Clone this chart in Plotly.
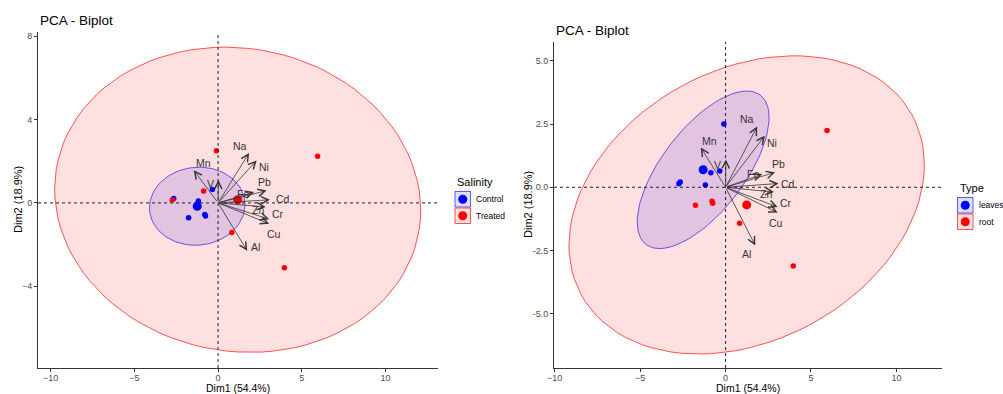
import numpy as np
import plotly.graph_objects as go

# ---------------- data ----------------
ind_x = [-0.10, 5.94, 3.96, 0.82, -0.86, -2.73, -0.34, -2.65, -1.76, -0.79, -0.75, -1.18]
ind_y = [2.50, 2.24, -3.11, -1.42, 0.57, 0.14, 0.64, 0.21, -0.71, -0.55, -0.63, 0.09]
salinity = ["Treated", "Treated", "Treated", "Treated", "Treated", "Treated",
            "Control", "Control", "Control", "Control", "Control", "Control"]
plant_type = ["leaves", "root", "root", "root", "leaves", "leaves",
              "leaves", "leaves", "root", "root", "root", "leaves"]

var_names = ["Na", "Ni", "Mn", "V", "Pb", "Fe", "Cd", "Zn", "Cr", "Cu", "Al"]
var_x = [1.85, 2.30, -1.45, 0.02, 2.90, 2.15, 3.10, 2.84, 3.05, 3.05, 1.74]
var_y = [2.40, 2.04, 1.57, 1.10, 0.59, 0.52, 0.15, -0.19, -0.78, -1.00, -2.30]

# label anchors (data units) as placed in each panel
lab_left_x = [1.31, 2.75, -0.88, -0.44, 2.77, 1.51, 3.86, 2.37, 3.56, 3.34, 2.21]
lab_left_y = [2.75, 1.74, 1.90, 0.90, 0.99, 0.42, 0.21, -0.34, -0.53, -1.50, -2.10]
lab_right_x = [1.24, 2.74, -0.94, -0.47, 3.10, 1.62, 3.65, 2.35, 3.56, 2.98, 1.24]
lab_right_y = [2.69, 1.74, 1.84, 0.88, 0.92, 0.51, 0.13, -0.26, -0.61, -1.40, -2.64]

salinity_groups = ["Control", "Treated"]
type_groups = ["leaves", "root"]

x_ticks = [-10, -5, 0, 5, 10]
left_y_ticks = [-4, 0, 4, 8]
right_y_ticks = [-5.0, -2.5, 0.0, 2.5, 5.0]
right_y_ticktext = ["-5.0", "-2.5", "0.0", "2.5", "5.0"]

x_title = "Dim1 (54.4%)"
y_title = "Dim2 (18.9%)"
plot_title = "PCA - Biplot"

# ---------------- styles ----------------
W, H = 1003, 394
FONT = "Liberation Sans, Arial, sans-serif"
colors = {0: "#0000FF", 1: "#FF0000"}
fills = {0: "rgba(0,0,255,0.13)", 1: "rgba(255,0,0,0.12)"}
lines = {0: "rgba(40,40,255,0.75)", 1: "rgba(255,40,40,0.8)"}


def px(x):
    return x / W


def py(y):
    return 1 - y / H


def t_ellipse(xs, ys, level=0.95, segments=101):
    pts = np.column_stack([xs, ys])
    n = len(pts)
    c = pts.mean(axis=0)
    cov = np.cov(pts.T)
    df2 = n - 1
    F = df2 / 2 * ((1 - level) ** (-2 / df2) - 1)
    r = np.sqrt(2 * F)
    th = np.linspace(0, 2 * np.pi, segments)
    unit = np.column_stack([np.cos(th), np.sin(th)])
    L = np.linalg.cholesky(cov)
    e = c + r * unit @ L.T
    return e[:, 0], e[:, 1]


ix = np.array(ind_x)
iy = np.array(ind_y)

fig = go.Figure()


def add_panel(labels, groups, xa, ya):
    labels = np.array(labels)
    for gi, g in enumerate(groups):
        m = labels == g
        ex, ey = t_ellipse(ix[m], iy[m])
        fig.add_trace(go.Scatter(x=ex, y=ey, mode="lines", fill="toself",
                                 fillcolor=fills[gi], line=dict(color=lines[gi], width=1),
                                 xaxis=xa, yaxis=ya, showlegend=False, hoverinfo="skip"))
    for gi, g in enumerate(groups):
        m = labels == g
        fig.add_trace(go.Scatter(x=ix[m], y=iy[m], mode="markers",
                                 marker=dict(color=colors[gi], size=5.5),
                                 xaxis=xa, yaxis=ya, showlegend=False, name=g))
        fig.add_trace(go.Scatter(x=[ix[m].mean()], y=[iy[m].mean()], mode="markers",
                                 marker=dict(color=colors[gi], size=9),
                                 xaxis=xa, yaxis=ya, showlegend=False, name=g))


add_panel(salinity, salinity_groups, "x", "y")
add_panel(plant_type, type_groups, "x2", "y2")

annotations = []
shapes = []

for (xa, ya, lx, ly) in [("x", "y", lab_left_x, lab_left_y), ("x2", "y2", lab_right_x, lab_right_y)]:
    for i, nm in enumerate(var_names):
        annotations.append(dict(x=var_x[i], y=var_y[i], ax=0, ay=0, xref=xa, yref=ya,
                                axref=xa, ayref=ya, text="", showarrow=True,
                                arrowhead=5, arrowsize=1.8, arrowwidth=0.8,
                                arrowcolor="#333333", standoff=0))
        annotations.append(dict(x=lx[i], y=ly[i], xref=xa, yref=ya, text=nm,
                                showarrow=False, font=dict(size=10.5, color="#333333", family=FONT)))
    shapes.append(dict(type="line", xref=xa, yref=f"{ya} domain", x0=0, x1=0, y0=0, y1=1,
                       line=dict(color="#222222", width=1, dash="3px,3px")))
    shapes.append(dict(type="line", xref=f"{xa} domain", yref=ya, x0=0, x1=1, y0=0, y1=0,
                       line=dict(color="#222222", width=1, dash="3px,3px")))

# titles and axis titles
for (tx, ty, xc, ycen, yx) in [(38, 20, 238, 200, 18), (554, 30, 748, 205, 528)]:
    annotations.append(dict(x=px(tx), y=py(ty), xref="paper", yref="paper", text=plot_title,
                            xanchor="left", yanchor="middle", showarrow=False,
                            font=dict(size=13.5, color="#000000", family=FONT)))
    annotations.append(dict(x=px(xc), y=py(394.5), xref="paper", yref="paper", text=x_title,
                            xanchor="center", yanchor="bottom", showarrow=False, borderpad=0,
                            font=dict(size=10.5, color="#000000", family=FONT)))
    annotations.append(dict(x=px(yx), y=py(ycen), xref="paper", yref="paper", text=y_title,
                            textangle=-90, xanchor="center", yanchor="middle", showarrow=False,
                            font=dict(size=11, color="#000000", family=FONT)))

# manual legends (ggplot style keys)
for (title, groups, lx, ty, by0) in [("Salinity", salinity_groups, 455, 182, 191.5),
                                     ("Type", type_groups, 957.5, 187.5, 197.5)]:
    annotations.append(dict(x=px(lx), y=py(ty), xref="paper", yref="paper", text=title,
                            xanchor="left", yanchor="middle", showarrow=False,
                            font=dict(size=11, color="#000000", family=FONT)))
    for gi, g in enumerate(groups):
        y0 = by0 + gi * 16.5
        shapes.append(dict(type="rect", xref="paper", yref="paper",
                           x0=px(lx), x1=px(lx + 15.5), y0=py(y0), y1=py(y0 + 15.5),
                           fillcolor=fills[gi], line=dict(color=lines[gi], width=1)))
        cxp, cyp = lx + 7.75, y0 + 7.75
        shapes.append(dict(type="circle", xref="paper", yref="paper",
                           x0=px(cxp - 4.5), x1=px(cxp + 4.5), y0=py(cyp - 4.5), y1=py(cyp + 4.5),
                           fillcolor=colors[gi], line=dict(width=0)))
        annotations.append(dict(x=px(lx + 19), y=py(cyp), xref="paper", yref="paper", text=g,
                                xanchor="left", yanchor="middle", showarrow=False,
                                font=dict(size=8.5, color="#000000", family=FONT)))

axis_common = dict(showgrid=False, zeroline=False, showline=True, linecolor="#333333",
                   linewidth=1, ticks="outside", ticklen=3, tickcolor="#333333", tickwidth=1,
                   automargin=False,
                   tickfont=dict(size=9, color="#4D4D4D", family=FONT))

fig.update_layout(
    width=W, height=H, margin=dict(l=0, r=0, t=0, b=0, pad=0, autoexpand=False),
    paper_bgcolor="white", plot_bgcolor="white", showlegend=False,
    font=dict(family=FONT),
    xaxis=dict(domain=[px(38), px(438)], range=[-10.75, 13.13], anchor="y",
               tickvals=x_ticks, ticklabelstandoff=-2, **axis_common),
    yaxis=dict(domain=[py(368), py(32)], range=[-7.92, 8.2], anchor="x",
               tickvals=left_y_ticks, **axis_common),
    xaxis2=dict(domain=[px(554), px(941.7)], range=[-10.04, 12.65], anchor="y2",
                tickvals=x_ticks, ticklabelstandoff=-2, **axis_common),
    yaxis2=dict(domain=[py(368), py(42)], range=[-7.14, 5.74], anchor="x2",
                tickvals=right_y_ticks, ticktext=right_y_ticktext, **axis_common),
    annotations=annotations, shapes=shapes,
)

fig.write_html("out.html", config={"displayModeBar": False},
               post_script="document.body.style.margin='0';document.body.style.overflow='hidden';")
